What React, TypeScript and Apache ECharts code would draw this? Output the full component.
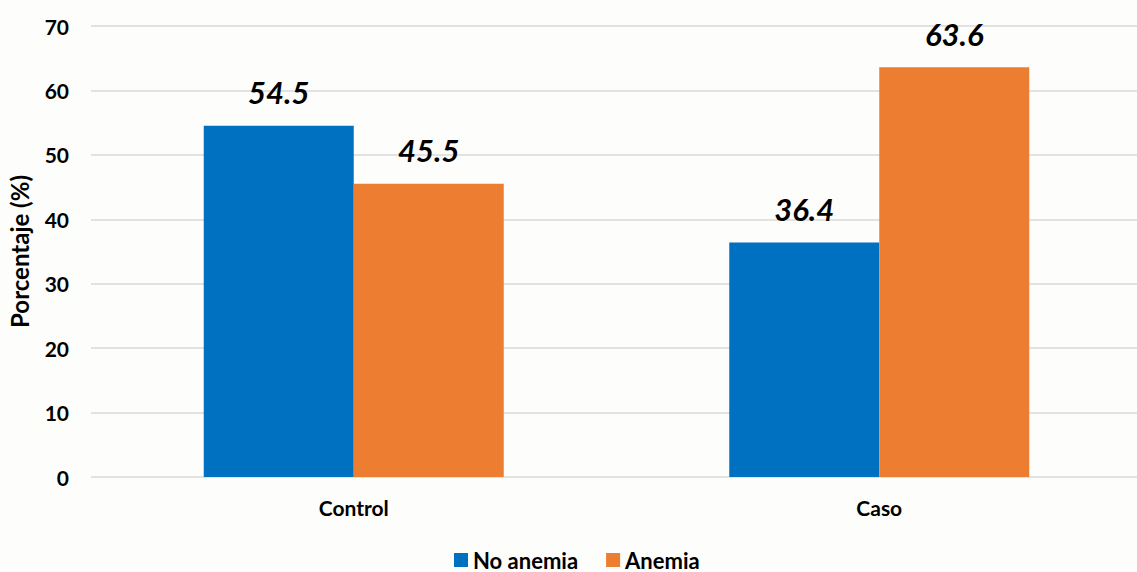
import React, { useEffect, useRef } from "react";
import * as echarts from "echarts";

const categories = ["Control", "Caso"];
const noAnemia = [54.5, 36.4];
const anemia = [45.5, 63.6];
const seriesNames = ["No anemia", "Anemia"];
const yTicks = { min: 0, max: 70, interval: 10 };

export default function App() {
  const ref = useRef<HTMLDivElement>(null);
  useEffect(() => {
    if (!ref.current) return;
    const chart = echarts.init(ref.current, null, { renderer: "svg" });
    const font = "Lato, 'Open Sans', sans-serif";
    const labelStyle = {
      show: true,
      position: "top" as const,
      distance: 18,
      fontFamily: font,
      fontWeight: "bold" as const,
      fontStyle: "italic" as const,
      fontSize: 31,
      color: "#000",
      formatter: (p: any) => p.value.toFixed(1),
    };
    chart.setOption({
      animation: false,
      backgroundColor: "#fdfdfb",
      textStyle: { fontFamily: font },
      grid: {
        left: 91,
        right: -5,
        top: 26,
        bottom: 95,
        containLabel: false,
        outerBoundsMode: "none",
      },
      legend: {
        bottom: -4,
        left: 449,
        itemWidth: 14,
        itemHeight: 14,
        itemGap: 28,
        icon: "rect",
        textStyle: { fontFamily: font, fontWeight: "bold", fontSize: 22, color: "#000" },
        data: seriesNames,
      },
      xAxis: {
        type: "category",
        data: categories,
        axisLine: { show: false },
        axisTick: { show: false },
        axisLabel: { fontFamily: font, fontWeight: "bold", fontSize: 21, color: "#000", margin: 20 },
      },
      yAxis: {
        type: "value",
        min: yTicks.min,
        max: yTicks.max,
        interval: yTicks.interval,
        name: "Porcentaje (%)",
        nameLocation: "middle",
        nameGap: 60,
        nameTextStyle: { fontFamily: font, fontWeight: "bold", fontSize: 24, color: "#000" },
        axisLine: { show: false },
        axisTick: { show: false },
        axisLabel: { fontFamily: font, fontWeight: "bold", fontSize: 21, color: "#000", margin: 22 },
        splitLine: { lineStyle: { color: "#d9d9d9", width: 1.5 } },
      },
      series: [
        {
          name: seriesNames[0],
          type: "bar",
          data: noAnemia,
          barWidth: 150,
          barGap: "0%",
          itemStyle: { color: "#0070C0" },
          label: labelStyle,
        },
        {
          name: seriesNames[1],
          type: "bar",
          data: anemia,
          barWidth: 150,
          barGap: "0%",
          itemStyle: { color: "#ED7D31" },
          label: labelStyle,
        },
      ],
    });
    return () => chart.dispose();
  }, []);
  return (
    <div
      ref={ref}
      style={{ position: "absolute", left: 0, top: 0, width: 1137, height: 572 }}
    />
  );
}
